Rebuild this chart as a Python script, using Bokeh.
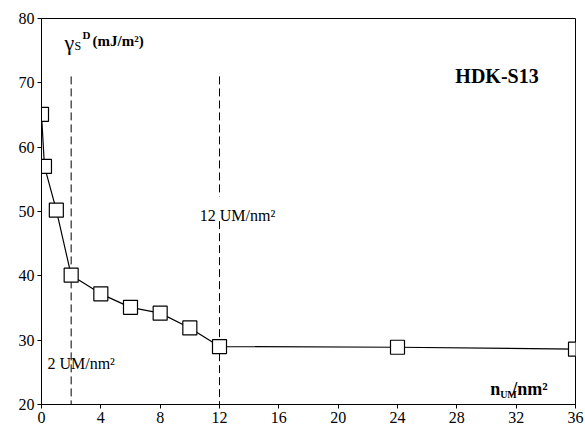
from bokeh.plotting import figure
from bokeh.models import Range1d, FixedTicker, ColumnDataSource
from bokeh.core.properties import value
from bokeh.embed import file_html
from bokeh.resources import INLINE

# data
n_um = [0, 0.2, 1, 2, 4, 6, 8, 10, 12, 24, 36]
gamma_sd = [65.1, 57.0, 50.2, 40.1, 37.2, 35.1, 34.2, 31.9, 29.0, 28.9, 28.6]
x_ticks = [0, 4, 8, 12, 16, 20, 24, 28, 32, 36]
y_ticks = [20, 30, 40, 50, 60, 70, 80]
# dashed markers at 2 and 12 UM/nm2
dash_x = [2, 12, 12]
dash_y0 = [71, 71, 48.5]
dash_y1 = [20, 52.3, 20]

FONT = "Liberation Serif"

p = figure(width=585, height=432, output_backend="svg", toolbar_location=None,
           x_range=Range1d(0, 36), y_range=Range1d(20, 80),
           min_border_left=41, min_border_right=10, min_border_top=18, min_border_bottom=28)
p.xgrid.visible = False
p.ygrid.visible = False
p.outline_line_color = "black"
p.outline_line_width = 1
p.outline_line_alpha = 1

for ax, ticks in ((p.xaxis, x_ticks), (p.yaxis, y_ticks)):
    ax.ticker = FixedTicker(ticks=ticks)
    ax.major_tick_in = 0
    ax.major_tick_out = 4
    ax.minor_tick_line_color = None
    ax.axis_line_color = "black"
    ax.major_tick_line_color = "black"
    ax.major_label_text_font = FONT
    ax.major_label_text_font_size = "16px"
    ax.major_label_text_color = "black"
    ax.major_label_standoff = 3

# dashed lines
p.segment(x0=dash_x, y0=dash_y0, x1=dash_x, y1=dash_y1, line_color="black",
          line_width=1, line_dash="8 4")

src = ColumnDataSource(dict(x=n_um, y=gamma_sd))
p.line("x", "y", source=src, line_color="black", line_width=1.2)
p.scatter("x", "y", source=src, marker="square", size=14, fill_color="white",
          line_color="black", line_width=1.2)

def txt(x, y, t, size, bold=False, align="left", base="alphabetic"):
    p.text(x=[x], y=[y], text=[t], text_font=value(FONT), text_font_size=size,
           text_font_style="bold" if bold else "normal", text_align=align,
           text_baseline=base, text_color="black")

# y-axis title pieces
txt(1.55, 76.27, "γ", "22px")
txt(2.23, 75.65, "S", "12px")
txt(2.77, 77.36, "D", "11px", bold=True)
txt(3.44, 76.58, "(mJ/m²)", "15px", bold=True)

txt(27.9, 71.1, "HDK-S13", "20px", bold=True)
txt(10.67, 49.4, "12 UM/nm²", "16px")
txt(0.4, 26.35, "2 UM/nm²", "16px")

# x-axis title pieces
txt(30.25, 22.46, "n", "18px", bold=True)
txt(30.92, 21.5, "UM", "10px", bold=True)
txt(31.74, 22.46, "/nm²", "18px", bold=True)

open("out.html", "w").write(file_html(p, INLINE))
